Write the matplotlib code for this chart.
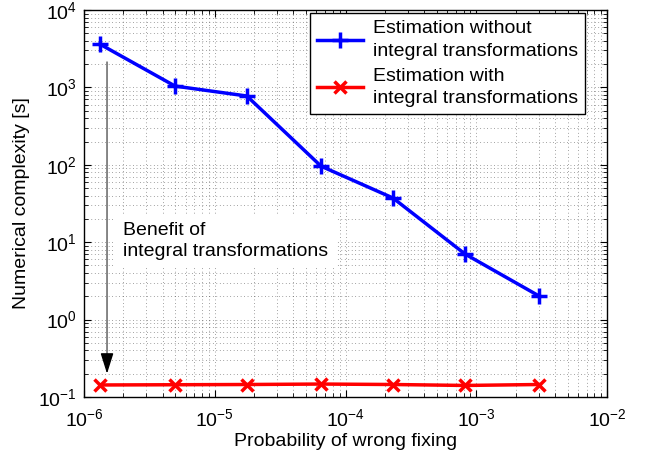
import matplotlib
matplotlib.use("Agg")
import matplotlib.pyplot as plt
from matplotlib.ticker import LogLocator, NullFormatter

plt.rcParams['font.family'] = ['Liberation Sans', 'DejaVu Sans']
plt.rcParams['mathtext.fontset'] = 'custom'
plt.rcParams['mathtext.rm'] = 'Liberation Sans'
plt.rcParams['mathtext.it'] = 'Liberation Sans'

prob = [1.32e-6, 4.97e-6, 1.76e-5, 6.5e-5, 2.31e-4, 8.2e-4, 3.02e-3]
without_it = [3630, 1040, 774, 96, 37.2, 7.04, 2.02]
with_it = [0.143, 0.144, 0.145, 0.147, 0.145, 0.141, 0.145]

fig = plt.figure(figsize=(6.58, 4.61), dpi=100)
ax = fig.add_axes([84/658, 1-397/461, 523/658, 387/461])

ax.plot(prob, without_it, color='blue', lw=2.5, marker='+', ms=11, mew=2.5,
        label='Estimation without\nintegral transformations')
ax.plot(prob, with_it, color='red', lw=2.5, marker='x', ms=9, mew=2.5,
        label='Estimation with\nintegral transformations')

ax.set_xscale('log')
ax.set_yscale('log')
ax.set_xlim(1e-6, 1e-2)
ax.set_ylim(1e-1, 1e4)
ax.set_xticks([1e-6, 1e-5, 1e-4, 1e-3, 1e-2])
ax.set_yticks([1e-1, 1e0, 1e1, 1e2, 1e3, 1e4])
ax.xaxis.set_minor_locator(LogLocator(base=10, subs=range(2, 10), numticks=20))
ax.yaxis.set_minor_locator(LogLocator(base=10, subs=range(2, 10), numticks=20))
ax.xaxis.set_minor_formatter(NullFormatter())
ax.yaxis.set_minor_formatter(NullFormatter())
ax.grid(True, which='both', color='black', linestyle=(0, (1, 4)), linewidth=0.5, alpha=0.7)
ax.tick_params(which='both', direction='in', top=True, right=True, labelsize=14)
ax.tick_params(which='major', length=5)
ax.tick_params(which='minor', length=3)
ax.tick_params(axis='x', pad=8)
ax.tick_params(axis='y', pad=5)
for s in ax.spines.values():
    s.set_linewidth(1.0)

ax.set_xlabel('Probability of wrong fixing', fontsize=14, labelpad=2)
ax.set_ylabel('Numerical complexity [s]', fontsize=14, labelpad=6)

# arrow shaft (gray) and head (black)
ax.annotate('', xy=(1.5e-6, 0.3), xytext=(1.5e-6, 2130),
            arrowprops=dict(arrowstyle='-', color='#555555', lw=1.0,
                            shrinkA=0, shrinkB=0))
ax.annotate('', xy=(1.5e-6, 0.2), xytext=(1.5e-6, 0.32),
            arrowprops=dict(arrowstyle='-|>,head_length=0.7,head_width=0.22',
                            color='black', lw=1.0,
                            mutation_scale=18, shrinkA=0, shrinkB=0))
ax.text(2.0e-6, 10.4, 'Benefit of\nintegral transformations', fontsize=14,
        va='center', ha='left', linespacing=1.3,
        bbox=dict(facecolor='white', edgecolor='none', pad=6))

leg = ax.legend(loc='upper right', bbox_to_anchor=(0.958, 0.992), fontsize=14,
                frameon=True, fancybox=False, edgecolor='black', framealpha=1,
                handlelength=2.4, borderaxespad=0, labelspacing=0.4,
                borderpad=0.35, handletextpad=0.5)
for t in leg.get_texts():
    t.set_linespacing(1.45)
leg.get_frame().set_linewidth(1.0)

fig.savefig('out.png', dpi=100)
